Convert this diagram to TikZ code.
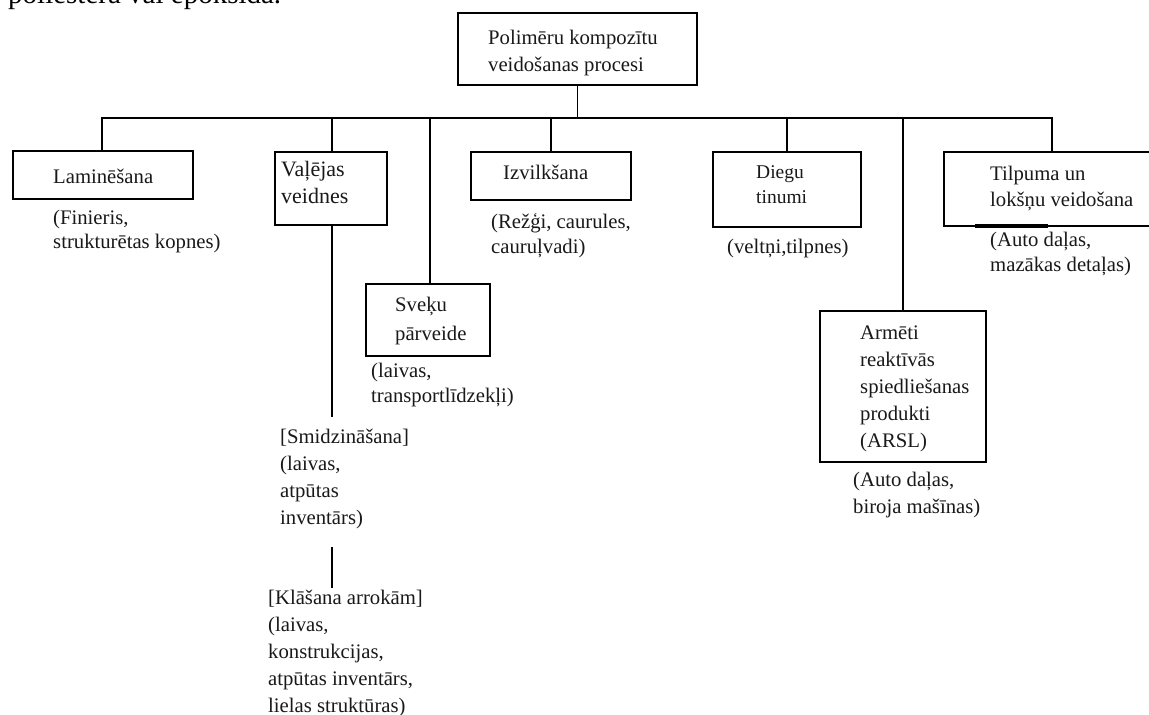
\documentclass[tikz,border=0pt]{standalone}
\usepackage{fontspec}
\setmainfont{Liberation Serif}
\tikzset{
  box/.style={draw, line width=1.7pt, inner sep=0pt},
  conn/.style={line width=1.7pt},
  txt/.style={inner sep=0pt, anchor=north west, align=left, text=black!90, font=\fontsize{20.7}{27}\selectfont},
}
\begin{document}
\begin{tikzpicture}[x=1pt,y=-1pt]
\clip (0,0) rectangle (1149,715);
\fill[white] (0,0) rectangle (1149,715);
% clipped line of page text above
\node[inner sep=0pt, anchor=base west, font=\fontsize{29}{30}\selectfont] (pagetext) at (8,3) {poliestera vai epoksīda.};
% boxes
\node[box, minimum width=239, minimum height=72] (root) at (577.5,49) {};
\node[box, minimum width=180, minimum height=48] (lam) at (103,175) {};
\node[box, minimum width=112, minimum height=73] (val) at (331,188.5) {};
\node[box, minimum width=160, minimum height=48] (izv) at (551,176) {};
\node[box, minimum width=124, minimum height=72] (svk) at (428,320) {};
\node[box, minimum width=148, minimum height=75] (dieg) at (787,189.5) {};
\node[box, minimum width=166, minimum height=151] (arm) at (903,386.5) {};
\node[box, minimum width=216, minimum height=74] (tilp) at (1052,189) {};
\draw[line width=3.2pt] (975,226) -- (1048,226);
% box texts
\node[txt] (roott) at (488,25.6) {\strut Polimēru kompozītu\\\strut veidošanas procesi};
\node[txt] (lamt) at (53,164.6) {\strut Laminēšana};
\node[txt, font=\fontsize{22}{27}\selectfont] (valt) at (281,157) {\strut Vaļējas\\\strut veidnes};
\node[txt] (izvt) at (503,160.6) {\strut Izvilkšana};
\node[txt, font=\fontsize{20.7}{29}\selectfont] (svkt) at (395,290.6) {\strut Sveķu\\\strut pārveide};
\node[txt, font=\fontsize{19.5}{25}\selectfont] (diegt) at (756,160.6) {\strut Diegu\\\strut tinumi};
\node[txt] (armt) at (860,320.6) {\strut Armēti\\\strut reaktīvās\\\strut spiedliešanas\\\strut produkti\\\strut (ARSL)};
\node[txt, font=\fontsize{20.7}{26}\selectfont] (tilpt) at (990,161.6) {\strut Tilpuma un\\\strut lokšņu veidošana};
% labels
\node[txt, font=\fontsize{20.7}{24}\selectfont] (laml) at (53,207.6) {\strut (Finieris,\\\strut strukturētas kopnes)};
\node[txt] (smil) at (280,424.6) {\strut [Smidzināšana]\\\strut (laivas,\\\strut atpūtas\\\strut inventārs)};
\node[txt] (klal) at (268,585.6) {\strut [Klāšana arrokām]\\\strut (laivas,\\\strut konstrukcijas,\\\strut atpūtas inventārs,\\\strut lielas struktūras)};
\node[txt, font=\fontsize{20.7}{25}\selectfont] (izvl) at (491,210.6) {\strut (Režģi, caurules,\\\strut cauruļvadi)};
\node[txt, font=\fontsize{20.7}{25}\selectfont] (svkl) at (371,359.6) {\strut (laivas,\\\strut transportlīdzekļi)};
\node[txt] (diegl) at (727,234.6) {\strut (veltņi,tilpnes)};
\node[txt] (arml) at (853,467.6) {\strut (Auto daļas,\\\strut biroja mašīnas)};
\node[txt, font=\fontsize{20.7}{25}\selectfont] (tilpl) at (990,228.6) {\strut (Auto daļas,\\\strut mazākas detaļas)};
% connectors
\coordinate (bus) at (0,118);
\coordinate (valend) at (332,417);
\coordinate (smitop) at (332,547);
\coordinate (klatop) at (332,588);
\draw[conn] (root.south) -- (root.south |- bus);
\draw[conn] (lam.north -| 102,0) |- (bus -| tilp.north) -- (tilp.north);
\draw[conn] (val.north -| valend) -- (valend |- bus);
\draw[conn] (val.south -| valend) -- (valend);
\draw[conn] (smitop) -- (klatop);
\draw[conn] (svk.north -| 430,0) -- (bus -| 430,0);
\draw[conn] (izv.north) -- (izv.north |- bus);
\draw[conn] (dieg.north) -- (dieg.north |- bus);
\draw[conn] (arm.north) -- (arm.north |- bus);
\end{tikzpicture}
\end{document}
